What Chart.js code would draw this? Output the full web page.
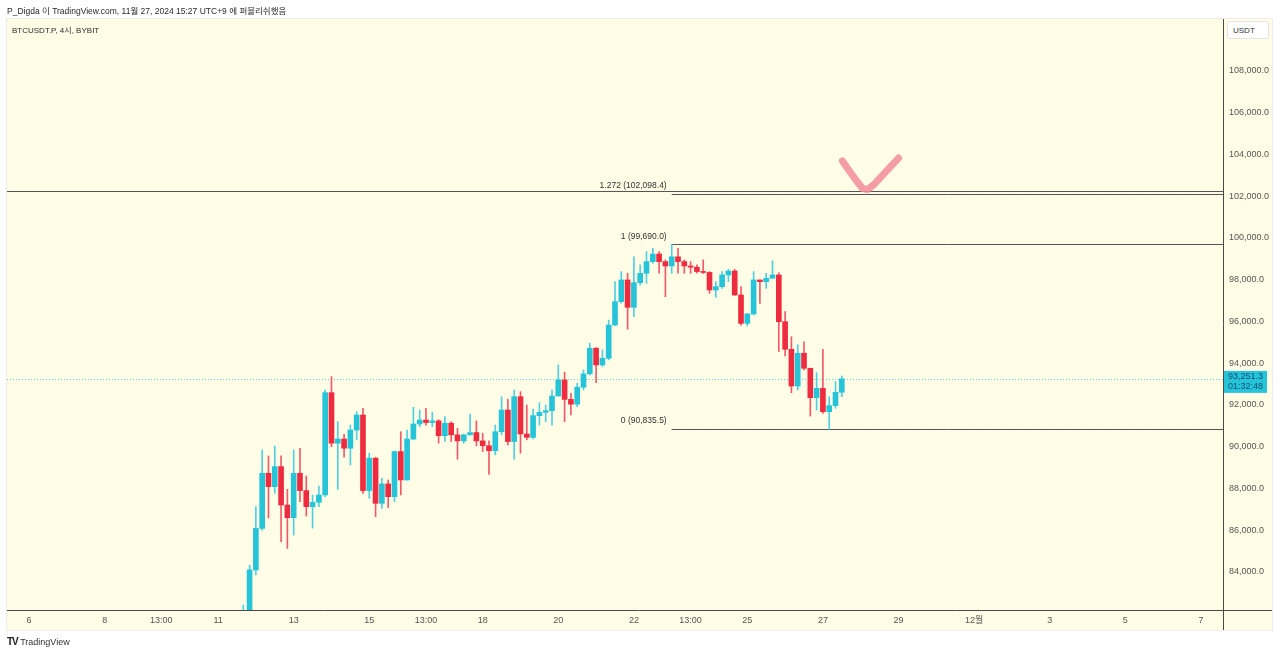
<!DOCTYPE html>
<html>
<head>
<meta charset="utf-8">
<script src="https://cdn.jsdelivr.net/npm/chart.js@4"></script>
<style>
  html, body { margin: 0; padding: 0; background: #ffffff; }
  #wrap { position: relative; width: 1280px; height: 654px; overflow: hidden; }
  canvas { position: absolute; left: 0; top: 0; }
  .txt { position: absolute; font-family: 'Liberation Sans', 'Noto Sans CJK KR', sans-serif; color: #333; white-space: nowrap; }
</style>
</head>
<body>
<div id="wrap">
  <canvas id="c" width="1280" height="654"></canvas>
  <div class="txt" style="left:7px; top:4px; font-size:8.5px; color:#2a2a2a;">P_Digda 이 TradingView.com, 11월 27, 2024 15:27 UTC+9 에 퍼블리쉬했음</div>
  <div class="txt" style="left:12px; top:24px; font-size:8px; color:#2a2a2a;">BTCUSDT.P, 4시, BYBIT</div>
  <div class="txt" style="left:1227px; top:21px; width:42px; height:18px; background:#fff; border:1px solid #e4e4e4; border-radius:2px; font-size:8px; line-height:18px; box-sizing:border-box; padding-left:5px; color:#333;">USDT</div>
  <div class="txt" style="left:7px; top:636px; font-size:9px; color:#222;"><span style="font-weight:900; letter-spacing:-1px; font-size:10px;">TV</span> <span style="color:#333;">TradingView</span></div>
</div>
<script>
// ---------- time slots (4h candles) ----------
const slotCount = 193;
const slotStartUTC = Date.UTC(2024, 10, 5, 13, 0); // Nov 5 13:00 (UTC+9 wall time)
const categories = [];
for (let i = 0; i < slotCount; i++) {
  const d = new Date(slotStartUTC + i * 4 * 3600 * 1000);
  const mm = String(d.getUTCMonth() + 1).padStart(2, '0');
  const dd = String(d.getUTCDate()).padStart(2, '0');
  const hh = String(d.getUTCHours()).padStart(2, '0');
  categories.push(mm + '/' + dd + ' ' + hh + ':00');
}

// ---------- x tick labels ----------
const tickCategories = ['11/06 01:00','11/08 01:00','11/09 13:00','11/11 01:00','11/13 01:00','11/15 01:00','11/16 13:00','11/18 01:00','11/20 01:00','11/22 01:00','11/23 13:00','11/25 01:00','11/27 01:00','11/29 01:00','12/01 01:00','12/03 01:00','12/05 01:00','12/07 01:00'];
const tickTexts = ['6','8','13:00','11','13','15','13:00','18','20','22','13:00','25','27','29','12월','3','5','7'];

// ---------- y ticks ----------
const yMin = 82180, yMax = 110491;
const yTickValues = [84000, 86000, 88000, 90000, 92000, 94000, 96000, 98000, 100000, 102000, 104000, 106000, 108000];

// ---------- candles (BTCUSDT.P 4h) ----------
const firstCandle = '11/11 17:00';
const opens  = [81200,81600,84100,86090,88730,88090,89050,87210,86600,88730,87900,87130,87340,87690,92590,90170,90370,89930,90800,91520,87900,89450,87290,88220,87610,89770,88410,90370,91090,91280,91160,91240,90530,91130,90570,90280,90570,90680,90280,90050,89810,90720,91760,90250,92400,90610,90450,91490,91650,91730,92430,93200,92270,92040,92850,93490,94720,93920,94240,95830,96950,97990,96680,97860,98310,98870,99230,98870,98660,99100,98870,98660,98600,98390,98350,97510,97670,98230,98420,97270,95910,96360,97990,97910,98070,98230,95990,94670,92910,94480,93760,92350,92800,91680,91970,92610];
const highs  = [82420,84330,87130,89850,89560,90040,89560,87960,89850,89930,88600,87690,88120,92720,93360,91200,90600,91040,91680,91840,89690,89500,88490,88410,89800,90720,90800,91890,91760,91840,91650,91300,91440,91200,90890,90610,91570,91240,90650,90280,91040,92400,92270,92720,92640,92000,91800,92110,92000,92720,93920,93570,92560,93040,93680,94960,94750,94640,96070,97910,98390,98310,99100,98710,99350,99510,99350,98950,99690,99510,98950,98870,98710,98950,98390,97910,98390,98500,98500,97670,96390,98390,98000,98310,98910,98340,96470,95270,94880,95030,93760,93550,94670,92400,93120,93390];
const lows   = [80700,81400,83860,86000,86590,87770,85450,85130,85770,87370,86680,86100,87130,87600,90000,87960,89500,89130,90330,87770,87530,86650,87050,87090,87370,87690,88400,90330,90960,91040,90960,90170,90250,90250,89400,90170,90560,90040,89770,88680,89610,90570,90090,89400,89690,90330,90370,91040,91200,91040,92430,91200,91520,91920,92720,93440,93070,93840,94160,95800,96870,95630,96230,97750,97830,98790,98310,97190,98310,98310,98310,98310,98310,98300,97350,97160,97590,97910,97250,95830,95790,96310,96870,97590,98070,94560,94350,92590,92720,93680,91470,91760,91600,90835.5,91840,92400];
const closes = [81600,84100,86090,88730,88090,89050,87210,86600,88730,87900,87130,87340,87690,92590,90170,90370,89930,90800,91520,87900,89450,87290,88220,87610,89770,88410,90370,91090,91280,91160,91240,90530,91130,90570,90280,90570,90680,90280,90050,89810,90720,91760,90250,92400,90610,90450,91490,91650,91730,92430,93200,92270,92040,92850,93490,94720,93920,94240,95830,96950,97990,96680,97860,98310,98870,99230,98870,98660,99100,98870,98660,98600,98390,98350,97510,97670,98230,98420,97270,95910,96360,97990,97910,98070,98230,95990,94670,92910,94480,93760,92350,92800,91680,91970,92610,93251.3];
const lastPrice = 93251.3;
const countdown = '01:32:48';

// ---------- drawings ----------
const fibStartCategory = '11/23 01:00';
const fibLevels = [1.272, 1, 0];
const fibPrices = [102098.4, 99690.0, 90835.5];
const horizontalLinePrice = 102250;
// hand-drawn check mark: [slot position, price]
const checkMarkSlots  = [132.1, 133.2, 134.35, 135.3, 136.1, 137.2, 139.1, 141.0];
const checkMarkPrices = [103690, 103210, 102730, 102370, 102320, 102590, 103210, 103830];

// ---------- colors ----------
const upColor = '#26c4d8', downColor = '#ef2b40';
const upWick = '#4fd0e0', downWick = '#f25a6c';
const panelBg = '#fffde6';
const fontFam = "'Liberation Sans', 'Noto Sans CJK KR', sans-serif";

// ---------- build datasets ----------
const startIdx = categories.indexOf(firstCandle);
const bodyData = new Array(slotCount).fill(null);
const wickData = new Array(slotCount).fill(null);
const bodyColors = new Array(slotCount).fill(upColor);
const wickColors = new Array(slotCount).fill(upWick);
for (let k = 0; k < opens.length; k++) {
  const i = startIdx + k;
  bodyData[i] = [opens[k], closes[k]];
  wickData[i] = [lows[k], highs[k]];
  const up = closes[k] >= opens[k];
  bodyColors[i] = up ? upColor : downColor;
  wickColors[i] = up ? upWick : downWick;
}
const tickMap = {};
tickCategories.forEach((c, j) => { tickMap[categories.indexOf(c)] = tickTexts[j]; });
const fmt1 = v => v.toLocaleString('en-US', {minimumFractionDigits: 1, maximumFractionDigits: 1});

const decor = {
  id: 'decor',
  beforeDraw(chart) {
    const ctx = chart.ctx;
    ctx.save();
    ctx.fillStyle = panelBg;
    ctx.fillRect(7, 19, 1265, 611);
    ctx.strokeStyle = '#ececec';
    ctx.lineWidth = 1;
    ctx.strokeRect(6.5, 18.5, 1266, 612);
    ctx.restore();
  },
  beforeDatasetsDraw(chart) {
    const ctx = chart.ctx, x = chart.scales.x, y = chart.scales.y, a = chart.chartArea;
    ctx.save();
    // current price dotted line
    const py = Math.round(y.getPixelForValue(lastPrice)) + 0.5;
    ctx.strokeStyle = 'rgba(38,196,216,0.75)';
    ctx.setLineDash([1, 2]);
    ctx.lineWidth = 1;
    ctx.beginPath(); ctx.moveTo(a.left, py); ctx.lineTo(a.right, py); ctx.stroke();
    ctx.setLineDash([]);
    // full-width horizontal line
    ctx.strokeStyle = '#555';
    const hy = Math.round(y.getPixelForValue(horizontalLinePrice)) + 0.5;
    ctx.beginPath(); ctx.moveTo(a.left, hy); ctx.lineTo(a.right, hy); ctx.stroke();
    // fib levels
    const fx = x.getPixelForValue(categories.indexOf(fibStartCategory));
    fibPrices.forEach(p => {
      const ly = Math.round(y.getPixelForValue(p)) + 0.5;
      ctx.beginPath(); ctx.moveTo(fx, ly); ctx.lineTo(a.right, ly); ctx.stroke();
    });
    ctx.restore();
  },
  afterDraw(chart) {
    const ctx = chart.ctx, x = chart.scales.x, y = chart.scales.y, a = chart.chartArea;
    ctx.save();
    // axis separators
    ctx.strokeStyle = '#4a4a4a';
    ctx.lineWidth = 1;
    ctx.beginPath(); ctx.moveTo(7, a.bottom + 0.5); ctx.lineTo(1272, a.bottom + 0.5); ctx.stroke();
    ctx.beginPath(); ctx.moveTo(a.right + 0.5, 19); ctx.lineTo(a.right + 0.5, 630); ctx.stroke();
    // fib labels
    const fx = x.getPixelForValue(categories.indexOf(fibStartCategory));
    ctx.fillStyle = '#333';
    ctx.font = '8.5px ' + fontFam;
    ctx.textAlign = 'right';
    ctx.textBaseline = 'bottom';
    fibPrices.forEach((p, j) => {
      const ly = y.getPixelForValue(p);
      ctx.fillText(fibLevels[j] + ' (' + fmt1(p) + ')', fx - 5, ly - 4);
    });
    // last price label
    const py = y.getPixelForValue(lastPrice);
    ctx.fillStyle = '#26c4d8';
    ctx.fillRect(a.right + 1, py - 8, 43, 22);
    ctx.fillStyle = '#0f4f78';
    ctx.textAlign = 'left';
    ctx.textBaseline = 'middle';
    ctx.font = '9px ' + fontFam;
    ctx.fillText(fmt1(lastPrice), a.right + 5, py - 2);
    ctx.fillText(countdown, a.right + 5, py + 8);
    // check mark
    ctx.strokeStyle = 'rgba(242,140,154,0.85)';
    ctx.lineWidth = 7;
    ctx.lineCap = 'round';
    ctx.lineJoin = 'round';
    ctx.beginPath();
    checkMarkSlots.forEach((s, j) => {
      const px = x.getPixelForValue(s), qy = y.getPixelForValue(checkMarkPrices[j]);
      if (j === 0) ctx.moveTo(px, qy); else ctx.lineTo(px, qy);
    });
    ctx.stroke();
    ctx.restore();
  }
};

new Chart(document.getElementById('c'), {
  type: 'bar',
  data: {
    labels: categories,
    datasets: [
      { label: 'wick', data: wickData, backgroundColor: wickColors, barThickness: 1, grouped: false, order: 2 },
      { label: 'body', data: bodyData, backgroundColor: bodyColors, barThickness: 5, grouped: false, minBarLength: 1, order: 1 }
    ]
  },
  options: {
    responsive: false,
    animation: false,
    devicePixelRatio: 1,
    layout: { padding: { left: 7, top: 19, right: 8, bottom: 24 } },
    plugins: { legend: { display: false }, tooltip: { enabled: false } },
    scales: {
      x: {
        type: 'category',
        offset: true,
        grid: { display: false, drawTicks: false },
        border: { display: false },
        afterFit(s) { s.height = 20; },
        ticks: {
          autoSkip: false, maxRotation: 0, minRotation: 0, padding: 5,
          color: '#555', font: { size: 9, family: fontFam },
          callback(v, i) { return tickMap[i] !== undefined ? tickMap[i] : ''; }
        }
      },
      y: {
        position: 'right',
        min: yMin, max: yMax,
        grid: { display: false, drawTicks: false },
        border: { display: false },
        afterFit(s) { s.width = 49; },
        afterBuildTicks(s) { s.ticks = yTickValues.map(v => ({ value: v })); },
        ticks: {
          padding: 6,
          color: '#555', font: { size: 9, family: fontFam },
          callback(v) { return fmt1(v); }
        }
      }
    }
  },
  plugins: [decor]
});
</script>
</body>
</html>
